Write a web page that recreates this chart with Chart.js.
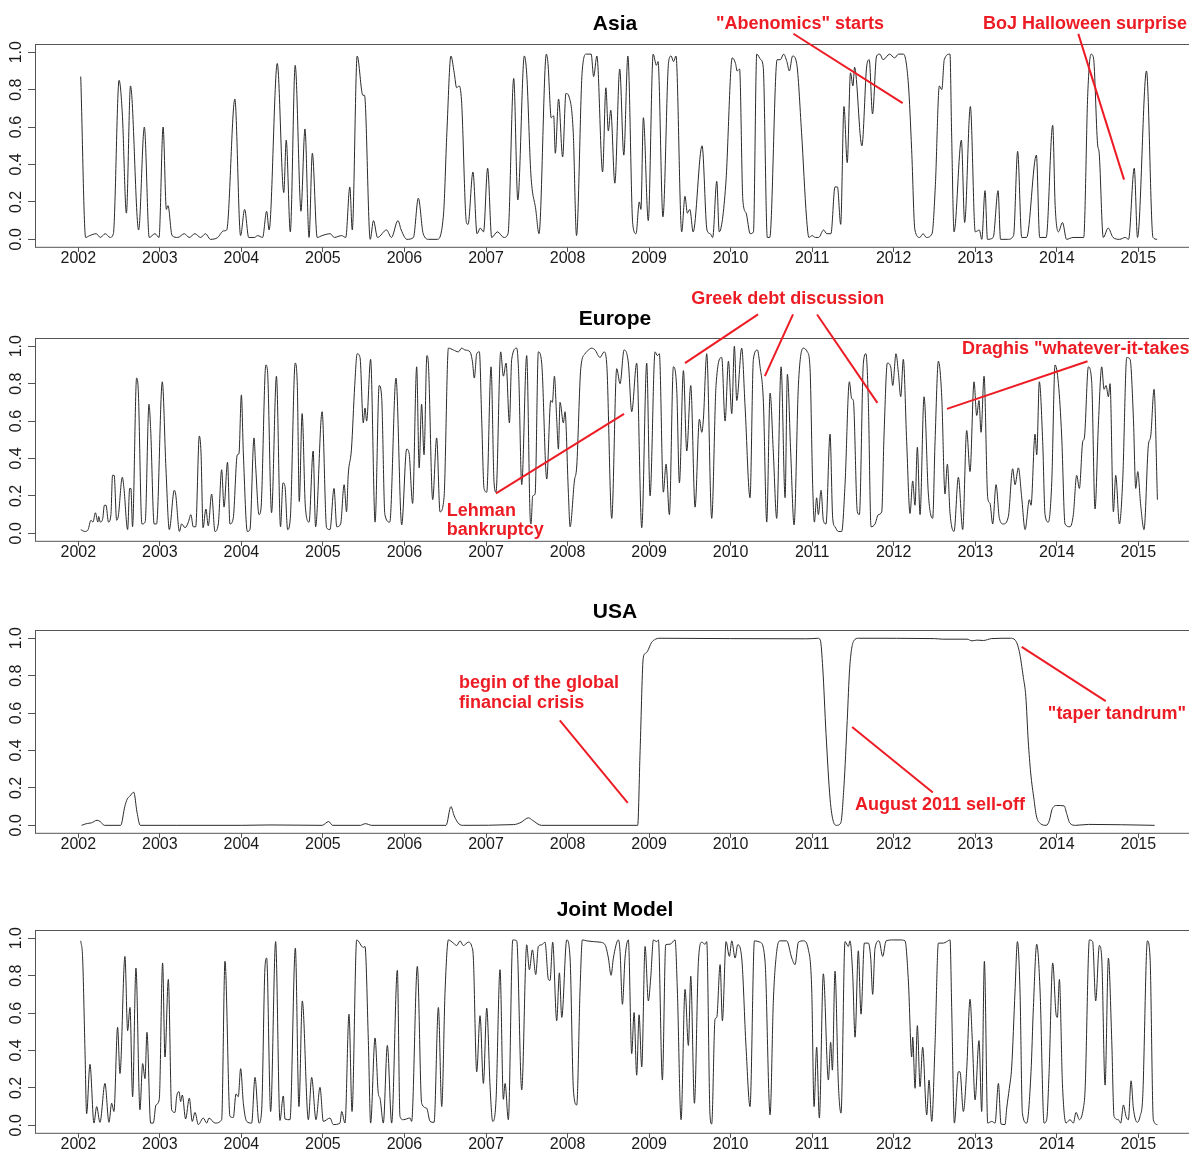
<!DOCTYPE html>
<html>
<head>
<meta charset="utf-8">
<script src="https://cdn.jsdelivr.net/npm/chart.js@4.4.1/dist/chart.umd.min.js"></script>
<style>
  html, body { margin: 0; padding: 0; background: #fff; }
  body { width: 1189px; height: 1152px; overflow: hidden; position: relative; }
  canvas { position: absolute; left: 0; }
</style>
</head>
<body>
<canvas id="asia" width="1200" height="300"></canvas>
<canvas id="europe" width="1200" height="300"></canvas>
<canvas id="usa" width="1200" height="300"></canvas>
<canvas id="joint" width="1200" height="300"></canvas>
<script>
// tick labels
const yearTicks = [2002, 2003, 2004, 2005, 2006, 2007, 2008, 2009, 2010, 2011, 2012, 2013, 2014, 2015];
const probTicks = [0, 0.2, 0.4, 0.6, 0.8, 1.0];

// [year, probability]
const asia = [
  [2002.03,0.87],[2002.09,0.01],[2002.14,0.02],[2002.22,0.03],[2002.27,0.01],[2002.33,0.03],[2002.39,0.01],[2002.43,0.03],
  [2002.50,0.85],[2002.54,0.67],[2002.59,0.14],[2002.64,0.82],[2002.74,0.05],[2002.81,0.60],[2002.87,0.01],[2002.94,0.03],[2002.99,0.01],
  [2003.04,0.60],[2003.08,0.16],[2003.10,0.18],[2003.15,0.02],[2003.22,0.01],[2003.30,0.03],[2003.36,0.01],[2003.43,0.03],[2003.50,0.01],[2003.56,0.03],[2003.62,0.00],[2003.71,0.01],[2003.78,0.045],[2003.82,0.05],
  [2003.92,0.75],[2003.99,0.02],[2004.04,0.16],[2004.09,0.01],[2004.16,0.01],[2004.20,0.02],[2004.26,0.01],[2004.31,0.15],[2004.34,0.05],[2004.44,0.94],[2004.52,0.25],[2004.55,0.53],[2004.60,0.04],[2004.66,0.93],[2004.72,0.21],[2004.73,0.15],[2004.78,0.59],[2004.83,0.01],[2004.87,0.46],[2004.93,0.01],
  [2004.99,0.02],[2005.09,0.03],[2005.14,0.01],[2005.23,0.02],[2005.28,0.01],[2005.33,0.28],[2005.36,0.05],[2005.42,0.98],[2005.49,0.77],[2005.51,0.77],[2005.58,0.00],
  [2005.62,0.10],[2005.67,0.01],[2005.78,0.05],[2005.84,0.01],[2005.92,0.10],[2005.96,0.05],[2006.03,0.00],[2006.11,0.01],[2006.17,0.22],[2006.23,0.03],[2006.30,0.00],[2006.40,0.00],
  [2006.48,0.14],[2006.52,0.57],[2006.57,0.98],[2006.61,0.89],[2006.64,0.81],[2006.67,0.82],[2006.70,0.74],[2006.76,0.09],[2006.78,0.08],[2006.84,0.36],[2006.89,0.03],[2006.93,0.06],[2006.97,0.04],[2007.02,0.38],[2007.07,0.01],[2007.14,0.04],[2007.22,0.01],[2007.27,0.03],
  [2007.34,0.86],[2007.39,0.21],[2007.47,0.98],[2007.50,0.88],[2007.55,0.35],[2007.61,0.16],[2007.65,0.03],[2007.74,0.99],[2007.76,0.94],[2007.80,0.65],[2007.83,0.66],[2007.85,0.46],[2007.89,0.75],[2007.94,0.44],[2007.98,0.78],[2008.02,0.76],[2008.07,0.57],[2008.11,0.02],
  [2008.18,0.90],[2008.23,0.99],[2008.29,0.99],[2008.32,0.87],[2008.36,0.98],[2008.43,0.36],[2008.47,0.81],[2008.50,0.58],[2008.53,0.69],[2008.58,0.30],[2008.64,0.91],[2008.69,0.45],[2008.74,0.98],[2008.80,0.08],[2008.84,0.03],[2008.88,0.20],[2008.90,0.16],[2008.93,0.65],[2008.99,0.10],
  [2009.05,0.99],[2009.09,0.93],[2009.11,0.95],[2009.17,0.12],[2009.24,0.95],[2009.27,0.98],[2009.30,0.95],[2009.33,0.98],[2009.40,0.04],[2009.44,0.23],[2009.47,0.14],[2009.50,0.16],[2009.54,0.04],[2009.65,0.50],[2009.71,0.05],[2009.75,0.03],[2009.78,0.01],[2009.83,0.31],[2009.86,0.04],[2009.94,0.29],
  [2010.02,0.97],[2010.06,0.94],[2010.08,0.90],[2010.11,0.91],[2010.15,0.21],[2010.19,0.14],[2010.24,0.03],[2010.28,0.04],[2010.32,0.99],[2010.37,0.96],[2010.40,0.92],[2010.45,0.01],[2010.48,0.01],
  [2010.57,0.96],[2010.61,0.96],[2010.65,0.99],[2010.69,0.95],[2010.72,0.90],[2010.76,0.98],[2010.81,0.94],[2010.87,0.57],[2010.93,0.12],[2010.96,0.01],
  [2011.00,0.02],[2011.04,0.01],[2011.08,0.01],[2011.14,0.05],[2011.18,0.03],[2011.23,0.03],[2011.28,0.28],[2011.31,0.28],[2011.35,0.08],[2011.39,0.71],[2011.43,0.41],[2011.47,0.89],[2011.50,0.82],[2011.52,0.92],[2011.61,0.50],[2011.67,0.93],[2011.70,0.96],[2011.74,0.67],[2011.79,0.98],[2011.83,0.99],[2011.87,0.96],[2011.95,0.99],[2012.01,0.97],[2012.06,0.99],[2012.12,0.99],[2012.18,0.83],[2012.22,0.48],[2012.26,0.05],[2012.32,0.01],[2012.36,0.03],[2012.40,0.01],[2012.47,0.03],
  [2012.51,0.28],[2012.56,0.82],[2012.59,0.80],[2012.62,0.96],[2012.69,0.99],[2012.71,0.57],[2012.74,0.04],[2012.83,0.53],[2012.87,0.09],[2012.94,0.71],[2013.00,0.04],[2013.05,0.05],[2013.08,0.00],[2013.12,0.26],[2013.15,0.00],[2013.22,0.01],[2013.28,0.26],[2013.31,0.00],[2013.40,0.00],[2013.47,0.02],
  [2013.52,0.47],[2013.57,0.01],[2013.63,0.01],[2013.75,0.45],[2013.79,0.01],[2013.87,0.01],[2013.95,0.61],[2013.98,0.18],[2014.02,0.04],[2014.07,0.09],[2014.12,0.00],[2014.20,0.01],[2014.33,0.01],
  [2014.38,0.78],[2014.42,0.99],[2014.45,0.97],[2014.50,0.51],[2014.52,0.46],[2014.57,0.01],[2014.63,0.06],[2014.69,0.01],[2014.77,0.00],[2014.84,0.01],[2014.88,0.00],[2014.95,0.38],[2014.99,0.01],[2015.10,0.90],[2015.18,0.01],[2015.23,0.00]
];

const europe = [
  [2002.03,0.02],[2002.08,0.01],[2002.12,0.02],[2002.155,0.07],[2002.18,0.06],[2002.21,0.11],[2002.24,0.06],[2002.25,0.09],[2002.27,0.06],[2002.30,0.08],[2002.32,0.15],[2002.34,0.15],[2002.37,0.06],[2002.40,0.10],[2002.42,0.31],[2002.44,0.31],[2002.47,0.07],[2002.49,0.09],[2002.54,0.30],[2002.56,0.24],[2002.605,0.02],[2002.63,0.24],[2002.645,0.24],[2002.665,0.035],[2002.715,0.83],[2002.735,0.77],[2002.78,0.05],[2002.82,0.06],[2002.867,0.69],[2002.887,0.56],[2002.93,0.05],[2002.96,0.05],
  [2003.03,0.81],[2003.075,0.345],[2003.116,0.02],[2003.177,0.23],[2003.194,0.21],[2003.24,0.01],[2003.267,0.05],[2003.31,0.03],[2003.35,0.06],[2003.38,0.10],[2003.41,0.035],[2003.44,0.035],[2003.484,0.52],[2003.505,0.43],[2003.53,0.03],[2003.565,0.13],[2003.594,0.04],[2003.635,0.21],[2003.676,0.01],[2003.717,0.05],[2003.758,0.34],[2003.787,0.14],[2003.83,0.38],[2003.86,0.05],[2003.90,0.08],[2003.95,0.42],[2003.97,0.425],
  [2004.0,0.74],[2004.024,0.43],[2004.073,0.01],[2004.105,0.02],[2004.155,0.51],[2004.175,0.36],[2004.216,0.10],[2004.24,0.13],[2004.30,0.90],[2004.32,0.87],[2004.37,0.11],[2004.43,0.84],[2004.48,0.035],[2004.51,0.27],[2004.535,0.25],[2004.567,0.02],[2004.60,0.08],[2004.66,0.91],[2004.686,0.79],[2004.71,0.17],[2004.745,0.64],[2004.785,0.14],[2004.83,0.06],[2004.88,0.44],[2004.91,0.035],[2004.99,0.65],
  [2005.045,0.03],[2005.087,0.02],[2005.136,0.24],[2005.17,0.035],[2005.217,0.05],[2005.26,0.26],[2005.29,0.115],[2005.31,0.31],[2005.35,0.45],[2005.39,0.79],[2005.42,0.96],[2005.455,0.94],[2005.495,0.59],[2005.516,0.67],[2005.536,0.60],[2005.585,0.93],[2005.64,0.06],[2005.69,0.79],[2005.72,0.73],[2005.76,0.10],[2005.82,0.06],[2005.896,0.83],[2005.966,0.045],
  [2006.027,0.45],[2006.056,0.43],[2006.10,0.16],[2006.15,0.89],[2006.18,0.35],[2006.21,0.69],[2006.24,0.42],[2006.275,0.95],[2006.293,0.91],[2006.346,0.18],[2006.395,0.51],[2006.436,0.115],[2006.485,0.19],[2006.539,0.99],[2006.60,0.98],[2006.661,0.97],[2006.702,0.99],[2006.743,0.98],[2006.804,0.97],[2006.833,0.92],[2006.857,0.83],[2006.886,0.96],[2006.919,0.97],[2006.947,0.61],[2006.976,0.24],
  [2007.009,0.22],[2007.062,0.89],[2007.099,0.27],[2007.123,0.22],[2007.18,0.97],[2007.213,0.84],[2007.246,0.91],[2007.287,0.59],[2007.315,0.93],[2007.377,0.99],[2007.401,0.85],[2007.438,0.26],[2007.499,0.95],[2007.54,0.10],[2007.552,0.05],[2007.573,0.20],[2007.602,0.21],[2007.642,0.97],[2007.683,0.91],[2007.745,0.29],[2007.794,0.71],[2007.814,0.70],[2007.839,0.84],[2007.867,0.61],[2007.888,0.45],[2007.908,0.70],[2007.949,0.59],[2007.969,0.65],
  [2008.01,0.22],[2008.031,0.035],[2008.084,0.28],[2008.113,0.36],[2008.162,0.88],[2008.215,0.96],[2008.256,0.98],[2008.296,0.99],[2008.337,0.98],[2008.399,0.94],[2008.448,0.97],[2008.48,0.91],[2008.542,0.08],[2008.603,0.88],[2008.644,0.80],[2008.693,0.98],[2008.746,0.91],[2008.787,0.65],[2008.848,0.91],[2008.91,0.03],[2008.971,0.91],
  [2009.012,0.20],[2009.073,0.97],[2009.102,0.95],[2009.126,0.96],[2009.175,0.22],[2009.208,0.37],[2009.249,0.10],[2009.298,0.89],[2009.339,0.77],[2009.372,0.27],[2009.421,0.87],[2009.462,0.44],[2009.511,0.79],[2009.564,0.14],[2009.617,0.61],[2009.646,0.54],[2009.666,0.61],[2009.707,0.96],[2009.768,0.08],[2009.821,0.79],[2009.891,0.94],[2009.932,0.60],[2009.973,0.92],
  [2010.014,0.64],[2010.046,1.0],[2010.075,0.71],[2010.136,0.99],[2010.177,0.68],[2010.238,0.19],[2010.279,0.93],[2010.328,0.98],[2010.361,0.89],[2010.402,0.70],[2010.443,0.06],[2010.484,0.75],[2010.524,0.43],[2010.565,0.08],[2010.619,0.89],[2010.668,0.19],[2010.696,0.85],[2010.737,0.43],[2010.778,0.045],[2010.831,0.79],[2010.892,0.99],[2010.941,0.97],[2010.974,0.88],
  [2011.006,0.26],[2011.027,0.06],[2011.055,0.19],[2011.076,0.10],[2011.109,0.23],[2011.137,0.07],[2011.17,0.05],[2011.219,0.53],[2011.252,0.08],[2011.28,0.035],[2011.321,0.01],[2011.362,0.01],[2011.403,0.26],[2011.456,0.81],[2011.485,0.72],[2011.505,0.71],[2011.554,0.115],[2011.579,0.10],[2011.628,0.91],[2011.66,0.96],[2011.689,0.70],[2011.722,0.035],[2011.771,0.05],[2011.812,0.10],[2011.853,0.115],[2011.881,0.52],[2011.922,0.91],[2011.963,0.89],[2011.988,0.79],
  [2012.028,0.96],[2012.057,0.86],[2012.086,0.73],[2012.118,0.93],[2012.159,0.49],[2012.20,0.106],[2012.233,0.28],[2012.261,0.15],[2012.29,0.46],[2012.323,0.10],[2012.372,0.73],[2012.425,0.21],[2012.478,0.08],[2012.507,0.49],[2012.548,0.92],[2012.589,0.73],[2012.629,0.21],[2012.658,0.37],[2012.691,0.106],[2012.74,0.01],[2012.793,0.30],[2012.846,0.02],[2012.895,0.55],[2012.936,0.33],[2012.985,0.81],
  [2013.018,0.63],[2013.046,0.71],[2013.071,0.54],[2013.108,0.84],[2013.153,0.19],[2013.181,0.16],[2013.214,0.05],[2013.255,0.26],[2013.296,0.08],[2013.345,0.05],[2013.406,0.09],[2013.459,0.345],[2013.488,0.26],[2013.529,0.35],[2013.57,0.19],[2013.611,0.02],[2013.664,0.18],[2013.684,0.15],[2013.733,0.53],[2013.754,0.42],[2013.786,0.81],[2013.827,0.49],[2013.856,0.10],[2013.897,0.06],[2013.938,0.27],[2013.979,0.90],
  [2014.02,0.80],[2014.06,0.52],[2014.101,0.05],[2014.162,0.035],[2014.203,0.10],[2014.244,0.31],[2014.277,0.24],[2014.318,0.49],[2014.338,0.51],[2014.387,0.89],[2014.428,0.81],[2014.469,0.13],[2014.51,0.58],[2014.551,0.89],[2014.58,0.77],[2014.604,0.79],[2014.633,0.73],[2014.653,0.80],[2014.694,0.115],[2014.723,0.31],[2014.768,0.05],[2014.809,0.29],[2014.858,0.94],[2014.899,0.93],[2014.94,0.61],[2014.968,0.24],[2014.993,0.33],
  [2015.029,0.15],[2015.07,0.02],[2015.123,0.47],[2015.152,0.52],[2015.193,0.77],[2015.234,0.18]
];

const usa = [
  [2002.04,0.0],[2002.11,0.01],[2002.16,0.013],[2002.23,0.027],[2002.27,0.02],[2002.32,0.0],[2002.52,0.0],[2002.57,0.10],[2002.60,0.14],[2002.63,0.155],[2002.68,0.177],[2002.72,0.07],[2002.76,0.0],
  [2003.20,0.0],[2004.00,0.0],[2004.35,0.002],[2004.99,0.0],[2005.07,0.02],[2005.12,0.0],[2005.46,0.0],[2005.52,0.009],[2005.60,0.0],
  [2006.51,0.0],[2006.57,0.10],[2006.61,0.05],[2006.67,0.007],[2006.72,0.0],[2007.34,0.004],[2007.43,0.016],[2007.52,0.04],[2007.57,0.027],[2007.68,0.0],[2008.86,0.0],
  [2008.89,0.40],[2008.93,0.90],[2008.96,0.92],[2008.98,0.93],[2009.03,0.977],[2009.08,0.995],[2009.12,1.0],[2010.00,0.998],[2010.92,0.997],[2011.00,0.998],[2011.07,1.0],
  [2011.10,0.99],[2011.13,0.84],[2011.17,0.49],[2011.22,0.14],[2011.26,0.02],[2011.30,0.0],[2011.35,0.012],[2011.39,0.21],[2011.43,0.56],[2011.46,0.84],[2011.51,0.986],[2011.57,1.0],
  [2012.50,0.998],[2012.60,0.995],[2012.90,0.995],[2012.96,0.986],[2013.02,0.99],[2013.10,0.988],[2013.20,0.998],[2013.43,1.0],
  [2013.49,0.99],[2013.54,0.93],[2013.59,0.79],[2013.62,0.69],[2013.65,0.45],[2013.68,0.28],[2013.72,0.14],[2013.75,0.05],[2013.80,0.009],[2013.87,0.0],[2013.91,0.027],[2013.94,0.083],[2014.00,0.106],[2014.09,0.104],[2014.12,0.065],[2014.16,0.012],[2014.23,0.0],[2014.39,0.005],[2015.20,0.0]
];

const joint = [
  [2002.03,0.986],[2002.053,0.894],[2002.082,0.40],[2002.102,0.062],[2002.143,0.326],[2002.192,0.012],[2002.225,0.10],[2002.266,0.016],[2002.327,0.224],[2002.376,0.016],[2002.409,0.118],[2002.437,0.074],[2002.482,0.524],[2002.511,0.277],[2002.572,0.903],[2002.605,0.506],[2002.634,0.63],[2002.666,0.153],[2002.707,0.841],[2002.756,0.083],[2002.789,0.33],[2002.818,0.25],[2002.842,0.497],[2002.887,0.012],[2002.92,0.012],[2002.953,0.109],[2002.993,0.139],
  [2003.034,0.868],[2003.063,0.365],[2003.104,0.78],[2003.145,0.083],[2003.186,0.069],[2003.206,0.153],[2003.235,0.18],[2003.255,0.127],[2003.276,0.162],[2003.316,0.034],[2003.361,0.145],[2003.398,0.021],[2003.431,0.069],[2003.472,0.004],[2003.533,0.039],[2003.574,0.012],[2003.603,0.039],[2003.676,0.012],[2003.758,0.03],[2003.799,0.877],[2003.86,0.048],[2003.901,0.042],[2003.934,0.168],[2003.962,0.153],[2003.991,0.303],
  [2004.024,0.118],[2004.065,0.021],[2004.126,0.012],[2004.167,0.256],[2004.216,0.012],[2004.249,0.083],[2004.289,0.841],[2004.31,0.894],[2004.359,0.074],[2004.42,0.982],[2004.473,0.026],[2004.514,0.157],[2004.535,0.034],[2004.596,0.03],[2004.662,0.947],[2004.706,0.10],[2004.747,0.665],[2004.821,0.03],[2004.862,0.256],[2004.915,0.03],[2004.964,0.203],
  [2005.005,0.021],[2005.087,0.039],[2005.127,0.004],[2005.209,0.012],[2005.23,0.074],[2005.271,0.012],[2005.32,0.594],[2005.357,0.074],[2005.414,0.991],[2005.496,0.951],[2005.516,0.956],[2005.557,0.453],[2005.585,0.012],[2005.639,0.467],[2005.679,0.171],[2005.70,0.145],[2005.741,0.012],[2005.79,0.427],[2005.843,0.012],[2005.913,0.829],[2005.945,0.048],[2005.986,0.03],
  [2006.068,0.039],[2006.088,0.021],[2006.158,0.85],[2006.211,0.118],[2006.272,0.092],[2006.314,0.021],[2006.363,0.016],[2006.416,0.63],[2006.457,0.10],[2006.498,0.718],[2006.539,0.991],[2006.60,0.974],[2006.641,0.961],[2006.682,0.986],[2006.722,0.961],[2006.784,0.979],[2006.825,0.956],[2006.845,0.894],[2006.886,0.286],[2006.927,0.586],[2006.968,0.224],
  [2007.009,0.626],[2007.05,0.206],[2007.082,0.021],[2007.123,0.136],[2007.172,0.832],[2007.213,0.139],[2007.234,0.224],[2007.274,0.03],[2007.328,0.991],[2007.377,0.986],[2007.438,0.189],[2007.499,0.965],[2007.532,0.832],[2007.569,0.938],[2007.61,0.806],[2007.642,0.956],[2007.683,0.965],[2007.724,0.979],[2007.765,0.78],[2007.785,0.774],[2007.818,0.979],[2007.867,0.559],[2007.90,0.815],[2007.929,0.577],[2007.99,0.991],
  [2008.031,0.894],[2008.072,0.189],[2008.113,0.109],[2008.153,0.718],[2008.182,0.991],[2008.235,0.986],[2008.317,0.982],[2008.399,0.979],[2008.46,0.965],[2008.501,0.894],[2008.534,0.802],[2008.562,0.894],[2008.624,0.991],[2008.644,0.929],[2008.673,0.647],[2008.705,0.894],[2008.746,0.991],[2008.787,0.383],[2008.816,0.603],[2008.848,0.268],[2008.877,0.591],[2008.91,0.312],[2008.951,0.956],[2008.991,0.665],
  [2009.02,0.788],[2009.053,0.991],[2009.094,0.982],[2009.114,0.991],[2009.163,0.242],[2009.204,0.965],[2009.257,0.968],[2009.319,0.991],[2009.347,0.718],[2009.392,0.03],[2009.441,0.727],[2009.482,0.427],[2009.511,0.797],[2009.556,0.118],[2009.605,0.877],[2009.646,0.979],[2009.687,0.968],[2009.707,0.982],[2009.748,0.048],[2009.768,0.007],[2009.809,0.568],[2009.83,0.577],[2009.871,0.859],[2009.899,0.559],[2009.944,0.982],[2009.985,0.903],
  [2010.014,0.986],[2010.055,0.894],[2010.087,0.965],[2010.136,0.894],[2010.189,0.418],[2010.238,0.10],[2010.292,0.986],[2010.361,0.979],[2010.422,0.877],[2010.484,0.056],[2010.524,0.665],[2010.565,0.929],[2010.606,0.986],[2010.688,0.986],[2010.75,0.894],[2010.79,0.859],[2010.831,0.979],[2010.892,0.986],[2010.954,0.938],[2010.995,0.718],
  [2011.023,0.10],[2011.055,0.418],[2011.088,0.039],[2011.137,0.81],[2011.199,0.242],[2011.227,0.444],[2011.248,0.295],[2011.28,0.824],[2011.321,0.224],[2011.354,0.065],[2011.403,0.982],[2011.444,0.956],[2011.464,0.986],[2011.497,0.806],[2011.526,0.471],[2011.566,0.933],[2011.599,0.594],[2011.64,0.974],[2011.689,0.974],[2011.718,0.894],[2011.742,0.70],[2011.771,0.947],[2011.82,0.986],[2011.865,0.903],[2011.906,0.986],[2011.996,0.991],
  [2012.078,0.991],[2012.139,0.986],[2012.18,0.771],[2012.221,0.365],[2012.233,0.471],[2012.262,0.198],[2012.29,0.533],[2012.323,0.206],[2012.355,0.418],[2012.405,0.056],[2012.433,0.242],[2012.466,0.021],[2012.507,0.436],[2012.548,0.974],[2012.609,0.974],[2012.65,0.982],[2012.691,0.991],[2012.711,0.63],[2012.744,0.012],[2012.793,0.286],[2012.813,0.286],[2012.854,0.074],[2012.895,0.295],[2012.936,0.674],[2012.965,0.444],[2012.998,0.136],
  [2013.046,0.453],[2013.079,0.074],[2013.112,0.877],[2013.153,0.012],[2013.202,0.021],[2013.243,0.012],[2013.284,0.224],[2013.316,0.007],[2013.365,0.004],[2013.386,0.092],[2013.418,0.198],[2013.447,0.312],[2013.488,0.718],[2013.517,0.982],[2013.549,0.718],[2013.578,0.065],[2013.631,0.012],[2013.684,0.286],[2013.713,0.63],[2013.754,0.968],[2013.795,0.718],[2013.844,0.012],[2013.876,0.03],[2013.905,0.277],[2013.95,0.868],[2013.991,0.594],
  [2014.007,0.577],[2014.032,0.78],[2014.069,0.224],[2014.113,0.012],[2014.162,0.03],[2014.203,0.012],[2014.236,0.069],[2014.277,0.03],[2014.326,0.092],[2014.347,0.189],[2014.40,0.991],[2014.44,0.982],[2014.477,0.665],[2014.522,0.961],[2014.551,0.894],[2014.592,0.215],[2014.633,0.894],[2014.674,0.453],[2014.702,0.048],[2014.755,0.03],[2014.784,0.012],[2014.817,0.109],[2014.849,0.048],[2014.878,0.03],[2014.911,0.238],[2014.939,0.092],[2014.988,0.016],
  [2015.021,0.048],[2015.054,0.153],[2015.111,0.986],[2015.144,0.894],[2015.184,0.03],[2015.234,0.004]
];

// annotations, in data units (year, probability)
const asiaLabels = [
  { text: '"Abenomics" starts', x: 2010.85, y: 1.152, align: 'center' },
  { text: 'BoJ Halloween surprise', x: 2014.346, y: 1.152, align: 'center' },
];
const asiaPointers = [
  [[2010.77, 1.099], [2012.11, 0.728]],
  [[2014.264, 1.098], [2014.825, 0.319]],
];
const europeLabels = [
  { text: 'Greek debt discussion', x: 2010.70, y: 1.25, align: 'center' },
  { text: 'Draghis "whatever-it-takes', x: 2014.232, y: 0.984, align: 'center' },
  { text: 'Lehman', x: 2006.52, y: 0.12, align: 'left' },
  { text: 'bankruptcy', x: 2006.52, y: 0.015, align: 'left' },
];
const europePointers = [
  [[2010.336, 1.17], [2009.44, 0.91]],
  [[2010.765, 1.17], [2010.42, 0.84]],
  [[2011.06, 1.17], [2011.80, 0.697]],
  [[2014.377, 0.92], [2012.654, 0.665]],
  [[2007.123, 0.214], [2008.693, 0.639]],
];
const usaLabels = [
  { text: 'begin of the global', x: 2006.67, y: 0.763, align: 'left' },
  { text: 'financial crisis', x: 2006.67, y: 0.656, align: 'left' },
  { text: 'August 2011 sell-off', x: 2011.525, y: 0.11, align: 'left' },
  { text: '"taper tandrum"', x: 2014.737, y: 0.597, align: 'center' },
];
const usaPointers = [
  [[2007.905, 0.561], [2008.738, 0.12]],
  [[2011.49, 0.526], [2012.48, 0.175]],
  [[2013.57, 0.954], [2014.60, 0.664]],
];

const FONT = '"Liberation Sans", Arial, sans-serif';
const RED = '#ed1c24';
const HEAD = 64, BOX_H = 204, CANVAS_H = 300;

Chart.defaults.font.family = FONT;
Chart.defaults.color = '#1a1a1a';

const framePlugin = {
  id: 'frame',
  afterDraw(chart, args, opts) {
    const { ctx, chartArea: a } = chart;
    const sx = chart.scales.x, sy = chart.scales.y;
    ctx.save();
    ctx.strokeStyle = '#555';
    ctx.lineWidth = 1;
    ctx.strokeRect(Math.round(a.left) + 0.5, Math.round(a.top) + 0.5, a.right - a.left, a.bottom - a.top);

    ctx.strokeStyle = RED;
    ctx.lineWidth = 2;
    for (const [p, q] of opts.pointers || []) {
      ctx.beginPath();
      ctx.moveTo(sx.getPixelForValue(p[0]), sy.getPixelForValue(p[1]));
      ctx.lineTo(sx.getPixelForValue(q[0]), sy.getPixelForValue(q[1]));
      ctx.stroke();
    }
    ctx.fillStyle = RED;
    ctx.font = 'bold 18px ' + FONT;
    ctx.textBaseline = 'middle';
    for (const n of opts.labels || []) {
      ctx.textAlign = n.align;
      ctx.fillText(n.text, sx.getPixelForValue(n.x), sy.getPixelForValue(n.y));
    }
    ctx.restore();
  }
};

function mountPanel(p) {
  const canvas = document.getElementById(p.id);
  const top = p.boxTop - HEAD;
  canvas.style.top = top + 'px';
  const padTop = p.titleY - top - 12;

  return new Chart(canvas.getContext('2d'), {
    type: 'line',
    data: {
      datasets: [{
        data: p.series.map(([t, v]) => ({ x: t, y: v })),
        borderColor: '#2a2a2a',
        borderWidth: 1,
        pointRadius: 0,
        tension: 0.4,
        cubicInterpolationMode: 'monotone',
      }],
    },
    options: {
      responsive: false,
      animation: false,
      devicePixelRatio: 1,
      events: [],
      layout: { padding: { left: 0, right: 5, top: 0, bottom: 0 } },
      plugins: {
        legend: { display: false },
        tooltip: { enabled: false },
        title: {
          display: true,
          text: p.title,
          fullSize: false,
          color: '#000',
          font: { size: 21, weight: 'bold', family: FONT },
          padding: { top: padTop, bottom: HEAD - 24 - padTop },
        },
        frame: { labels: p.labels, pointers: p.pointers },
      },
      scales: {
        x: {
          type: 'linear',
          min: 2001.469,
          max: 2015.695,
          afterBuildTicks: (s) => { s.ticks = yearTicks.map((v) => ({ value: v })); },
          afterFit: (s) => { s.height = CANVAS_H - HEAD - BOX_H; },
          ticks: { autoSkip: false, maxRotation: 0, padding: -3, font: { size: 16 }, callback: (v) => String(v) },
          grid: { display: true, drawOnChartArea: false, drawTicks: true, tickLength: 5, color: '#555' },
          border: { display: false },
        },
        y: {
          min: -0.041,
          max: 1.043,
          afterBuildTicks: (s) => { s.ticks = probTicks.map((v) => ({ value: v })); },
          afterFit: (s) => { s.width = 35; },
          ticks: { autoSkip: false, minRotation: 90, maxRotation: 90, crossAlign: 'center', padding: 0, font: { size: 16 }, callback: (v) => v.toFixed(1) },
          grid: { display: true, drawOnChartArea: false, drawTicks: true, tickLength: 7, color: '#555' },
          border: { display: false },
        },
      },
    },
    plugins: [framePlugin],
  });
}

const panels = [
  { id: 'asia', title: 'Asia', boxTop: 43, titleY: 23.5, series: asia, labels: asiaLabels, pointers: asiaPointers },
  { id: 'europe', title: 'Europe', boxTop: 337, titleY: 319, series: europe, labels: europeLabels, pointers: europePointers },
  { id: 'usa', title: 'USA', boxTop: 629, titleY: 611.5, series: usa, labels: usaLabels, pointers: usaPointers },
  { id: 'joint', title: 'Joint Model', boxTop: 929, titleY: 909.5, series: joint, labels: [], pointers: [] },
];

panels.forEach(mountPanel);
</script>
</body>
</html>
